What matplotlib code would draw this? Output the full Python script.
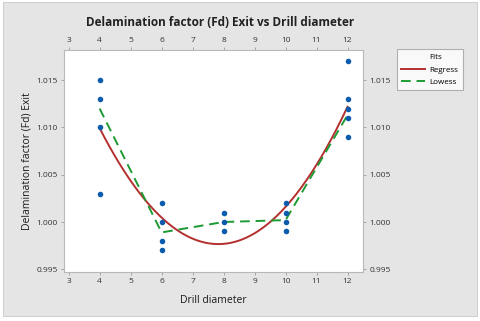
import numpy as np
import matplotlib
matplotlib.use("Agg")
import matplotlib.pyplot as plt
from matplotlib.patches import Rectangle
from matplotlib.lines import Line2D

plt.rcParams['font.family'] = ['Open Sans', 'DejaVu Sans']

# Data
x_points = [4, 4, 4, 4, 6, 6, 6, 6, 8, 8, 8, 10, 10, 10, 10, 12, 12, 12, 12, 12]
y_points = [1.015, 1.013, 1.010, 1.003,
            1.002, 1.000, 0.998, 0.997,
            1.001, 1.000, 0.999,
            1.002, 1.001, 1.000, 0.999,
            1.017, 1.013, 1.012, 1.011, 1.009]
lowess_x = [4, 6, 8, 10, 12]
lowess_y = [1.0120, 0.9989, 1.0000, 1.0002, 1.0113]
x_ticks = [3, 4, 5, 6, 7, 8, 9, 10, 11, 12]
y_ticks = [0.995, 1.000, 1.005, 1.010, 1.015]

fig = plt.figure(figsize=(4.8, 3.21), dpi=100)
fig.patch.set_facecolor('white')
bg = Rectangle((3/480, 5/321), 474/480, 314/321, transform=fig.transFigure,
               facecolor='#e5e5e5', edgecolor='#d0d0d0', linewidth=0.8, zorder=-10)
fig.add_artist(bg)

ax = fig.add_axes([64/480, 49/321, 299/480, 222/321])
ax.set_zorder(1)
ax.set_facecolor('white')

# Quadratic regression fit
coef = np.polyfit(x_points, y_points, 2)
xs = np.linspace(4, 12, 200)
l1, = ax.plot(xs, np.polyval(coef, xs), color='#b3302e', lw=1.4, zorder=2)
l2, = ax.plot(lowess_x, lowess_y, color='#1e9a34', lw=1.4, ls=(0, (5, 3)), zorder=2)
ax.scatter(x_points, y_points, s=16, color='#0b5cad', zorder=3, linewidths=0)

ax.set_xlim(2.85, 12.5)
ax.set_ylim(0.99471, 1.0182)
ax.set_xticks(x_ticks)
ax.set_xticklabels([str(t) for t in x_ticks])
ax.set_yticks(y_ticks)
ax.set_yticklabels([f"{t:.3f}" for t in y_ticks])
ax.tick_params(axis='both', which='both', direction='out', length=2.5, width=0.6,
               colors='#9a9a9a', labelcolor='#333333', labelsize=6,
               top=True, labeltop=True, right=True, labelright=True, pad=2)
for s in ax.spines.values():
    s.set_color('#b8b8b8')
    s.set_linewidth(0.8)

ax.set_xlabel('Drill diameter', fontsize=7.5, color='#1a1a1a', labelpad=7)
ax.set_ylabel('Delamination factor (Fd) Exit', fontsize=7.5, color='#1a1a1a', labelpad=3)
fig.text(220/480, 1 - 23/321, 'Delamination factor (Fd) Exit vs Drill diameter',
         ha='center', va='center', fontsize=8.5, fontweight='bold', color='#222222')

dummy = Line2D([], [], lw=0)
leg = ax.legend([dummy, l1, l2], ['Fits', 'Regress', 'Lowess'],
                loc='upper left', bbox_to_anchor=(397/480, 1 - 49/321), bbox_transform=fig.transFigure,
                fontsize=5.8, frameon=True, fancybox=False,
                handlelength=2.9, handletextpad=0.6, borderpad=0.55, borderaxespad=0,
                labelspacing=0.6)
leg.get_frame().set_edgecolor('#a0a0a0')
leg.get_frame().set_linewidth(0.8)

fig.savefig('out.png', dpi=100, facecolor=fig.get_facecolor())
